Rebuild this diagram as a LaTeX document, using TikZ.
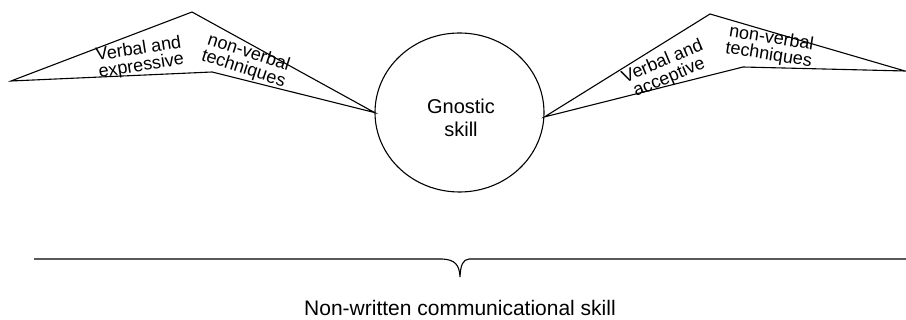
\documentclass[tikz,border=0pt]{standalone}
\usepackage{fontspec}
\setmainfont{Liberation Sans}
\usetikzlibrary{shapes.geometric}
\begin{document}
\begin{tikzpicture}[x=1pt,y=-1pt,
  edge/.style={draw=black,line width=1.1pt,line join=miter},
  lbl/.style={align=center,inner sep=0pt,font=\fontsize{18}{17}\selectfont},
  big/.style={align=center,inner sep=0pt,font=\fontsize{20}{23}\selectfont}]
\useasboundingbox[fill=white] (0,0) rectangle (906,320);
% central ellipse
\node[ellipse,edge,minimum width=169pt,minimum height=159pt,inner sep=0pt] (gn) at (459.5,112.5) {};
\node[big] (gt) at (461,118) {Gnostic\\skill};
% left wedge
\coordinate (l1) at (11,81);
\coordinate (l2) at (192,12);
\coordinate (l3) at (212,72);
\draw[edge] (l1) -- (l2) -- (gn.west) -- (l3) -- cycle;
\node[lbl,rotate=9] (la) at (140,58) {Verbal and\\expressive};
\node[lbl,rotate=-18] (lb) at (246,61) {non-verbal\\techniques};
% right wedge
\coordinate (r2) at (710,14);
\coordinate (r3) at (905,71);
\coordinate (r4) at (743,67);
\draw[edge] (gn.-3) -- (r2) -- (r3) -- (r4) -- cycle;
\node[lbl,rotate=23] (ra) at (666,70) {Verbal and\\acceptive};
\node[lbl,rotate=-9] (rb) at (770,47) {non-verbal\\techniques};
% brace
\coordinate (b1) at (34,259);
\coordinate (b2) at (442,259);
\coordinate (bt) at (460,277);
\coordinate (b3) at (469,259);
\coordinate (b4) at (906,259);
\draw[edge] (b1) -- (b2) .. controls (455,259.5) and (459.5,265) .. (bt)
  .. controls (460.5,265) and (463,259.5) .. (b3) -- (b4);
\node[inner sep=0pt,anchor=base,font=\fontsize{21}{24}\selectfont] (bottom) at (460,316) {Non-written communicational skill};
\end{tikzpicture}
\end{document}
